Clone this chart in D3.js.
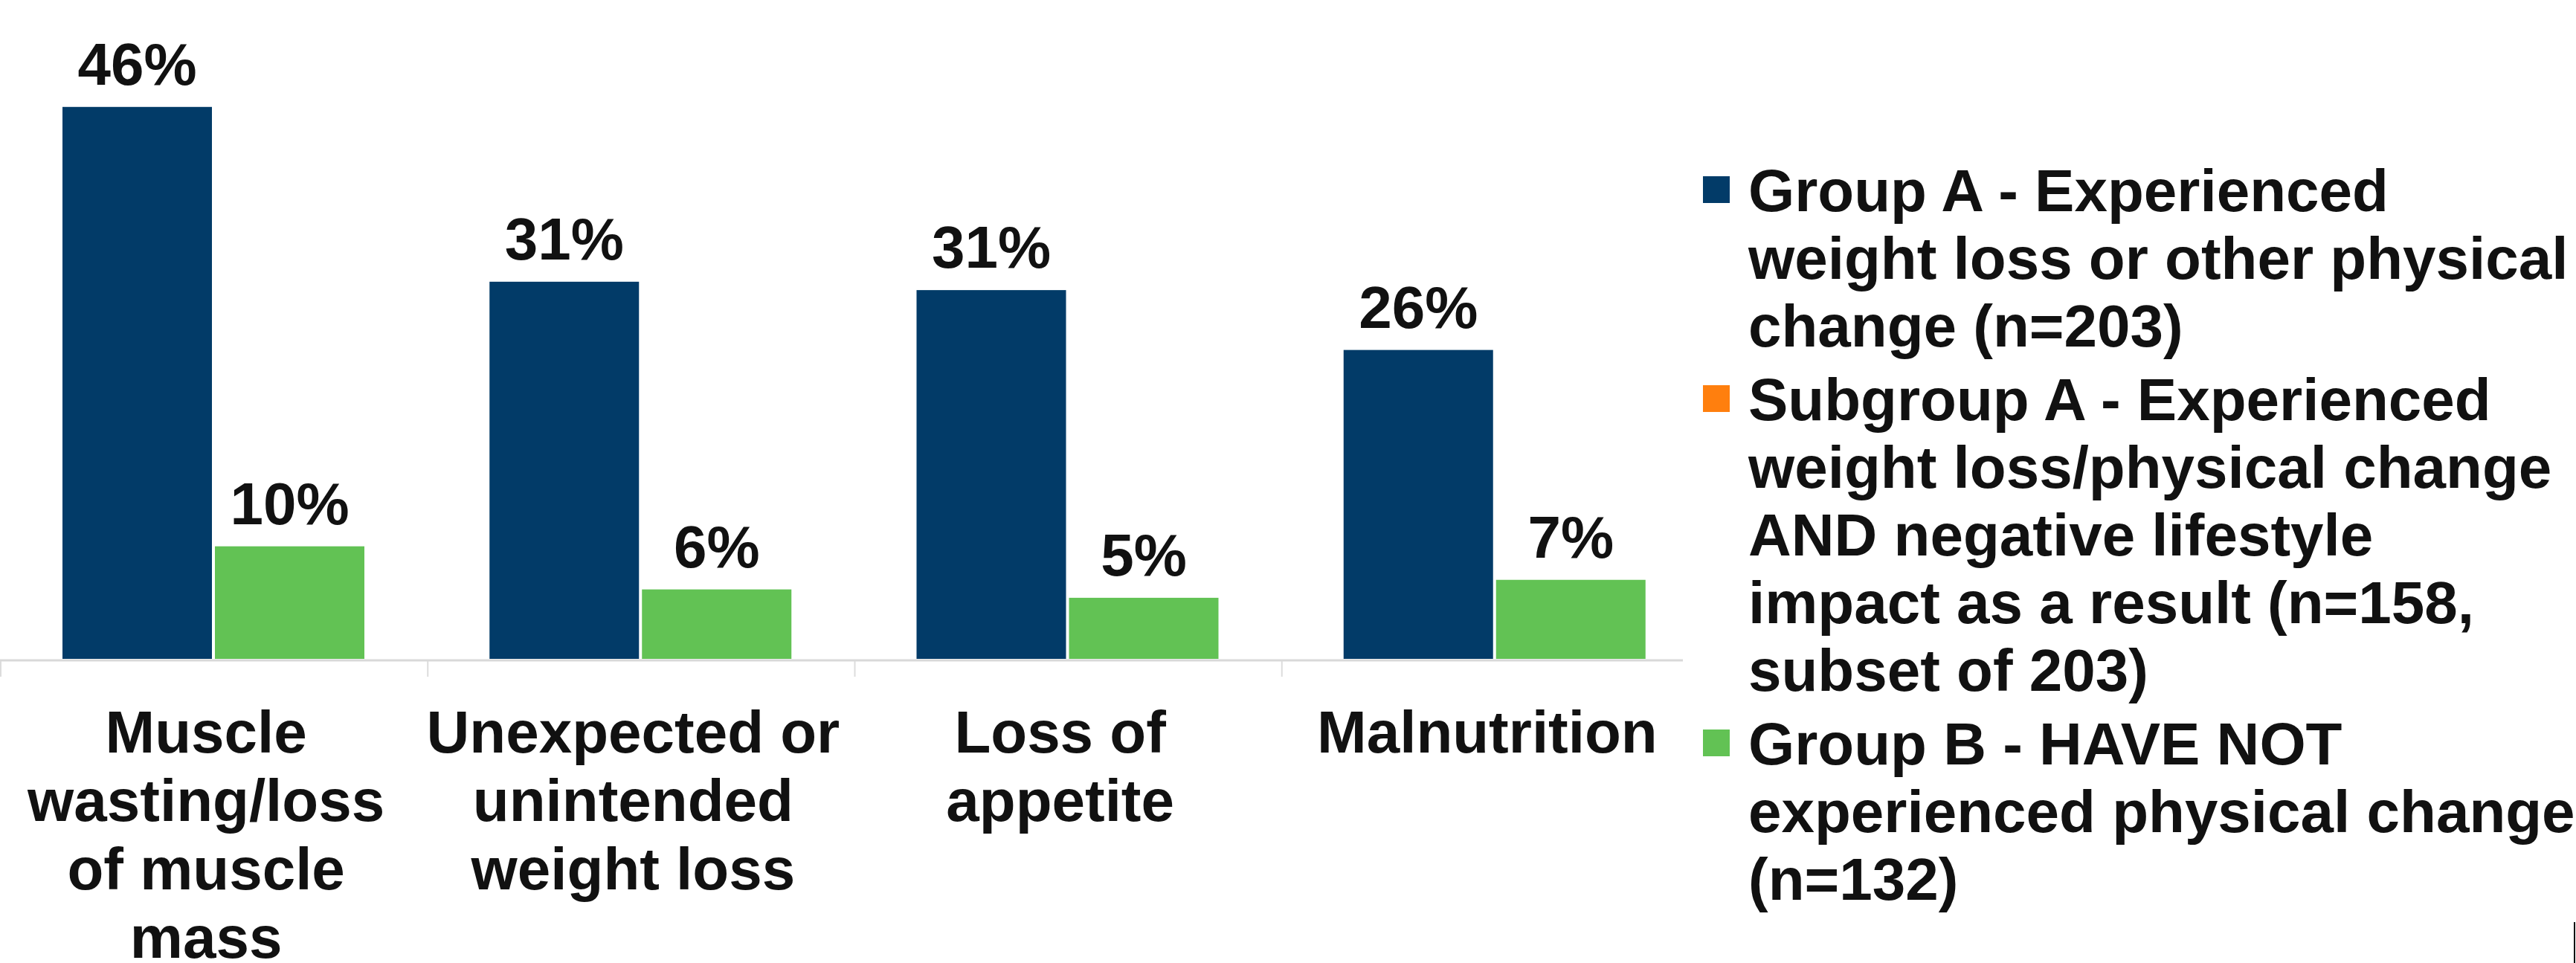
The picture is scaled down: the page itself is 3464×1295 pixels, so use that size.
<!DOCTYPE html>
<html>
<head>
<meta charset="utf-8">
<script src="https://cdn.jsdelivr.net/npm/d3@7/dist/d3.min.js"></script>
<style>
  html, body { margin: 0; padding: 0; background: #ffffff; }
  svg { display: block; }
  text { font-family: "Liberation Sans", Arial, Helvetica, sans-serif; font-weight: bold; fill: #111111; }
</style>
</head>
<body>
<script>
// ---- data ----
const categories = ["Muscle wasting/loss of muscle mass", "Unexpected or unintended weight loss", "Loss of appetite", "Malnutrition"];
const categoryLines = [["Muscle", "wasting/loss", "of muscle", "mass"], ["Unexpected or", "unintended", "weight loss"], ["Loss of", "appetite"], ["Malnutrition"]];
const groupA = [46.1, 31.5, 30.8, 25.8];
const groupB = [9.4, 5.8, 5.1, 6.6];
const labelsA = ["46%", "31%", "31%", "26%"];
const labelsB = ["10%", "6%", "5%", "7%"];
const seriesKeys = ["A", "B"];
const legendNames = ["Group A", "Subgroup A", "Group B"];
const legendLines = [
  ["Group A - Experienced", "weight loss or other physical", "change (n=203)"],
  ["Subgroup A - Experienced", "weight loss/physical change", "AND negative lifestyle", "impact as a result (n=158,", "subset of 203)"],
  ["Group B - HAVE NOT", "experienced physical change", "(n=132)"]
];
const legendColors = ["#023b68", "#ff7f0e", "#62c254"];

// ---- layout ----
const W = 3464, H = 1295;
const baseY = 886;
const svg = d3.select("body").append("svg").attr("width", W).attr("height", H);

const x0 = d3.scaleBand().domain(categories).range([0, 2297]).paddingInner(0).paddingOuter(0);
const x1 = d3.scaleBand().domain(seriesKeys).range([84, 490]).paddingInner(4 / 205).paddingOuter(0);
const y = d3.scaleLinear().domain([0, 50]).range([baseY, baseY - 50 * 16.1]);
const color = d3.scaleOrdinal().domain(seriesKeys).range([legendColors[0], legendColors[2]]);

const rows = categories.map((c, i) => ({
  cat: c,
  bars: [
    { key: "A", value: groupA[i], label: labelsA[i] },
    { key: "B", value: groupB[i], label: labelsB[i] }
  ]
}));

// axis line and ticks
svg.append("line")
  .attr("x1", 0).attr("x2", 2263)
  .attr("y1", baseY + 2).attr("y2", baseY + 2)
  .attr("stroke", "#d9d9d9").attr("stroke-width", 3);
svg.selectAll("line.tick").data(categories).join("line")
  .attr("class", "tick")
  .attr("x1", d => x0(d) + 1).attr("x2", d => x0(d) + 1)
  .attr("y1", baseY + 3).attr("y2", baseY + 24)
  .attr("stroke", "#dcdcdc").attr("stroke-width", 2);

// bars
const g = svg.selectAll("g.cat").data(rows).join("g")
  .attr("class", "cat")
  .attr("transform", d => `translate(${x0(d.cat)},0)`);

g.selectAll("rect").data(d => d.bars).join("rect")
  .attr("x", d => x1(d.key))
  .attr("width", x1.bandwidth())
  .attr("y", d => y(d.value))
  .attr("height", d => baseY - y(d.value))
  .attr("fill", d => color(d.key));

g.selectAll("text.val").data(d => d.bars).join("text")
  .attr("class", "val")
  .attr("x", d => x1(d.key) + x1.bandwidth() / 2)
  .attr("y", d => y(d.value) - 30)
  .attr("text-anchor", "middle")
  .attr("font-size", 80)
  .text(d => d.label);

// category labels
svg.selectAll("text.cat").data(categories).join("text")
  .attr("class", "cat")
  .attr("text-anchor", "middle")
  .attr("font-size", 80)
  .each(function (d, i) {
    const t = d3.select(this);
    categoryLines[i].forEach((line, j) => {
      t.append("tspan")
        .attr("x", x0(d) + x0.bandwidth() / 2 - 10)
        .attr("y", 1012 + j * 92)
        .text(line);
    });
  });

// legend
let ly = 284;
legendNames.forEach((name, i) => {
  svg.append("rect")
    .attr("x", 2290).attr("y", ly - 47)
    .attr("width", 36).attr("height", 36)
    .attr("fill", legendColors[i]);
  const t = svg.append("text").attr("font-size", 80);
  legendLines[i].forEach((line, j) => {
    t.append("tspan").attr("x", 2351).attr("y", ly + j * 91).text(line);
  });
  ly += (legendLines[i].length - 1) * 91 + 99;
});

// small edge mark at bottom right
svg.append("line")
  .attr("x1", 3462).attr("x2", 3462)
  .attr("y1", 1240).attr("y2", 1295)
  .attr("stroke", "#111").attr("stroke-width", 2);
</script>
</body>
</html>
